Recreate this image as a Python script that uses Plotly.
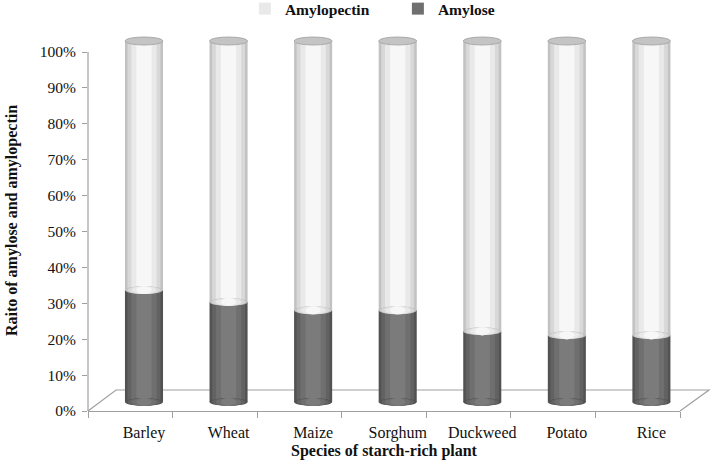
import plotly.graph_objects as go

categories = ["Barley", "Wheat", "Maize", "Sorghum", "Duckweed", "Potato", "Rice"]
amylose = [0.31, 0.277, 0.254, 0.254, 0.196, 0.185, 0.185]
amylopectin = [0.69, 0.723, 0.746, 0.746, 0.804, 0.815, 0.815]
y_ticks = [0.0, 0.1, 0.2, 0.3, 0.4, 0.5, 0.6, 0.7, 0.8, 0.9, 1.0]

SERIF = "Liberation Serif, Times New Roman, serif"
TXT = "#111111"
xs = list(range(len(categories)))

# shading layers (width, amylose colour, amylopectin colour)
layers = [
    (0.45, "#525252", "#c2c2c2"),
    (0.39, "#626262", "#d8d8d8"),
    (0.30, "#6f6f6f", "#e9e9e9"),
    (0.18, "#7b7b7b", "#f7f7f7"),
]
legend_layer = 2

fig = go.Figure()

# invisible trace so that the display axes (x / y) are drawn
fig.add_trace(go.Scatter(x=[0], y=[0], mode="markers", marker=dict(opacity=0),
                         showlegend=False, hoverinfo="skip"))

for li, (w, cdark, clight) in enumerate(layers):
    fig.add_trace(go.Bar(
        x=xs, y=amylopectin, base=amylose, width=w,
        marker=dict(color=clight, line=dict(width=0)),
        name="Amylopectin", showlegend=(li == legend_layer), legendrank=1,
        xaxis="x2", yaxis="y2", hoverinfo="skip"))
for li, (w, cdark, clight) in enumerate(layers):
    fig.add_trace(go.Bar(
        x=xs, y=amylose, width=w,
        marker=dict(color=cdark, line=dict(width=0)),
        name="Amylose", showlegend=(li == legend_layer), legendrank=2,
        xaxis="x2", yaxis="y2", hoverinfo="skip"))

axis_col = "#a0a0a0"
eh = 0.011
shapes = []
# floor of the 3-D plot area (decorative)
shapes.append(dict(type="path", xref="paper", yref="paper",
                   path="M 0,0 L 0.0473,0.0551 L 1.049,0.0551 L 1,0",
                   line=dict(color=axis_col, width=1.2), layer="below"))
# vertical value axis line from 0% to 100%
shapes.append(dict(type="line", xref="paper", yref="y", x0=0, x1=0, y0=0, y1=1,
                   line=dict(color=axis_col, width=1.2)))
for i in xs:
    for (w, cdark, clight) in layers:
        shapes.append(dict(type="circle", xref="x2", yref="y2",
                           x0=i - w / 2, x1=i + w / 2, y0=-eh, y1=eh,
                           fillcolor=cdark, line=dict(width=0)))
    for (w, cdark, clight) in layers:
        shapes.append(dict(type="circle", xref="x2", yref="y2",
                           x0=i - w / 2, x1=i + w / 2,
                           y0=amylose[i] - eh, y1=amylose[i] + eh,
                           fillcolor=clight, line=dict(width=0)))
    top = amylose[i] + amylopectin[i]
    w0 = layers[0][0]
    shapes.append(dict(type="circle", xref="x2", yref="y2",
                       x0=i - w0 / 2, x1=i + w0 / 2, y0=top - eh, y1=top + eh,
                       fillcolor="#c4c4c4", line=dict(color="#a9a9a9", width=1)))

fig.update_layout(
    width=714, height=468,
    margin=dict(l=88, r=34, t=30, b=57, autoexpand=False),
    paper_bgcolor="white", plot_bgcolor="white",
    barmode="overlay",
    shapes=shapes,
    font=dict(family=SERIF, color=TXT),
    legend=dict(orientation="h", x=0.265, xanchor="left", y=1.055, yanchor="middle",
                font=dict(family=SERIF, size=15.5, color=TXT, weight="bold"),
                itemwidth=30, entrywidth=108, bgcolor="rgba(0,0,0,0)"),
    xaxis=dict(range=[-0.5, 6.5], tickvals=[v - 0.5 for v in range(8)],
               ticktext=[""] * 8, ticks="outside", ticklen=6, tickcolor=axis_col,
               showline=True, linecolor=axis_col, linewidth=1.2,
               showgrid=False, zeroline=False, fixedrange=True),
    xaxis2=dict(overlaying="x", anchor="y", range=[-0.662, 6.338],
                tickvals=xs, ticktext=categories, ticks="", showline=False,
                showgrid=False, zeroline=False, ticklabelstandoff=10,
                tickfont=dict(family=SERIF, size=16, color=TXT),
                title=dict(text="Species of starch-rich plant",
                           font=dict(family=SERIF, size=16, color=TXT, weight="bold"),
                           standoff=2)),
    yaxis=dict(range=[0, 1.0613], tickvals=y_ticks, tickformat=".0%",
               ticks="outside", ticklen=5, tickcolor=axis_col, ticklabelstandoff=3,
               showline=False, showgrid=False, zeroline=False,
               tickfont=dict(family=SERIF, size=15.5, color=TXT),
               title=dict(text="Raito of amylose and amylopectin",
                          font=dict(family=SERIF, size=16, color=TXT, weight="bold"),
                          standoff=18)),
    yaxis2=dict(overlaying="y", anchor="x", range=[-0.0249, 1.0305],
                showticklabels=False, ticks="", showline=False,
                showgrid=False, zeroline=False),
)

fig.write_html("out.html", config={"displayModeBar": False},
               post_script="document.body.style.margin='0';")
